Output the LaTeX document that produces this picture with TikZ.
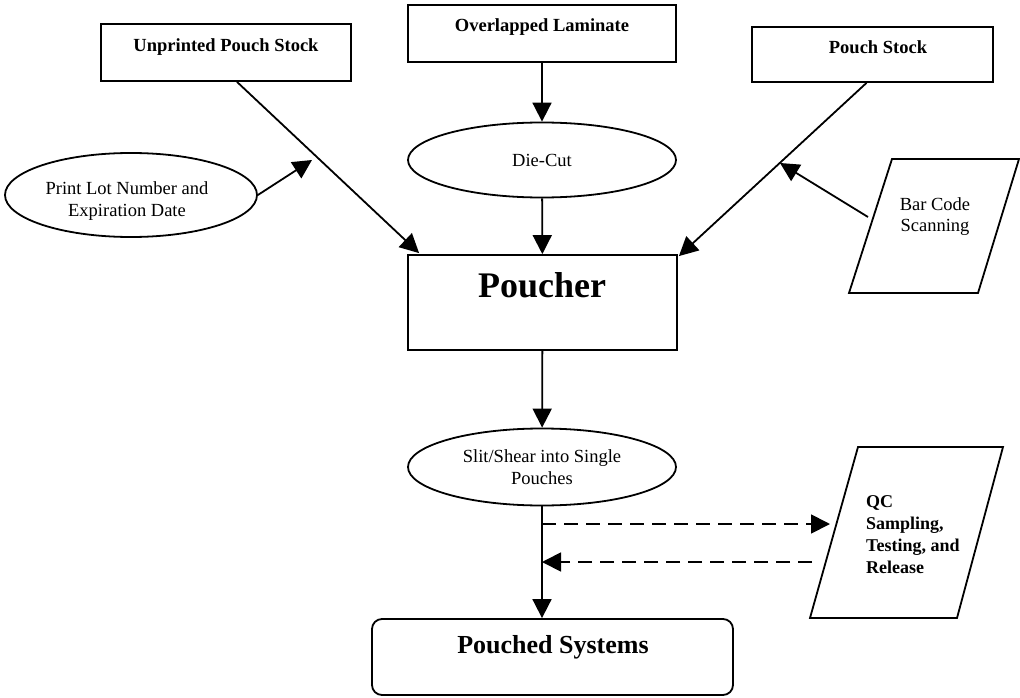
\documentclass[tikz,border=0pt]{standalone}
\usepackage{fontspec}
\setmainfont{Liberation Serif}
\usetikzlibrary{arrows.meta,shapes.geometric}
\begin{document}
\begin{tikzpicture}[x=1pt,y=-1pt,
  lw/.style={line width=1.8pt},
  boxnode/.style={draw,lw,rectangle,inner sep=0pt},
  ellnode/.style={draw,lw,ellipse,inner sep=0pt,align=center,font=\fontsize{18.5}{21.5}\selectfont},
  lbl/.style={align=center,inner sep=0pt,font=\fontsize{18.5}{21.5}\selectfont},
  blbl/.style={align=center,inner sep=0pt,font=\fontsize{18.5}{21.5}\selectfont\bfseries},
  arr/.style={lw,-{Triangle[length=19pt,width=19pt]}},
  dasharr/.style={arr,dash pattern=on 14pt off 8pt},
]
\useasboundingbox (0,0) rectangle (1020,698);

% top row boxes
\node[boxnode,minimum width=250pt,minimum height=57pt] (unp) at (226,52.5) {};
\node[blbl] (unpt) at (226,47) {Unprinted Pouch Stock};
\node[boxnode,minimum width=268pt,minimum height=57pt] (ovl) at (542,33.5) {};
\node[blbl] (ovlt) at (542,27) {Overlapped Laminate};
\node[boxnode,minimum width=241pt,minimum height=55pt] (pst) at (872.5,54.5) {};
\node[blbl] (pstt) at (878,47) {Pouch Stock};

% ellipses
\node[ellnode,minimum width=268pt,minimum height=75pt] (diecut) at (542,160) {Die-Cut};
\node[ellnode,minimum width=252pt,minimum height=84pt] (printlot) at (131,195) {};
\node[lbl] (printlott) at (127,201) {Print Lot Number and\\Expiration Date};

% Poucher
\node[boxnode,minimum width=269pt,minimum height=95pt] (poucher) at (542.5,302.5) {};
\node[inner sep=0pt,font=\fontsize{36}{40}\selectfont\bfseries] (pouchert) at (542,285) {Poucher};

% Slit / shear
\node[ellnode,minimum width=268pt,minimum height=77pt] (slit) at (542,467) {Slit/Shear into Single\\Pouches};

% Pouched systems
\node[boxnode,rounded corners=10pt,minimum width=361pt,minimum height=76pt] (pouched) at (552.5,657) {};
\node[inner sep=0pt,font=\fontsize{26}{30}\selectfont\bfseries] (pouchedt) at (553,647) {Pouched Systems};

% Bar code parallelogram
\coordinate (bc1) at (892,159);
\coordinate (bc2) at (1019,159);
\coordinate (bc3) at (978,293);
\coordinate (bc4) at (849,293);
\draw[lw,line join=miter] (bc1) -- (bc2) -- (bc3) -- (bc4) -- cycle;
\node[lbl] (bct) at (935,216.5) {Bar Code\\Scanning};

% QC parallelogram
\coordinate (qc1) at (858,447);
\coordinate (qc2) at (1003,447);
\coordinate (qc3) at (957,618);
\coordinate (qc4) at (810,618);
\draw[lw,line join=miter] (qc1) -- (qc2) -- (qc3) -- (qc4) -- cycle;
\node[inner sep=0pt,align=left,anchor=west,font=\fontsize{18}{22}\selectfont\bfseries] (qct) at (866,535) {QC\\Sampling,\\Testing, and\\Release};

% connectors
\draw[arr] ([xshift=11pt]unp.south) -- ([xshift=12pt,yshift=1pt]poucher.north west);
\draw[arr] (ovl) -- (diecut);
\draw[arr] (diecut) -- (poucher);
\draw[arr] ([xshift=-6pt]pst.south) -- ([xshift=1pt,yshift=-2pt]poucher.north east);

\coordinate (plend) at (312,160);
\draw[arr] (printlot.east) -- (plend);

\coordinate (bcstart) at (868,217);
\coordinate (bcend) at (780,163);
\draw[arr] (bcstart) -- (bcend);

\draw[arr] (poucher) -- (slit);
\draw[arr] (slit.south) -- (slit.south |- pouched.north);

\coordinate (qcin) at (830,524);
\coordinate (qcout) at (812,562);
\draw[dasharr] (slit.south |- qcin) -- (qcin);
\draw[dasharr] (qcout) -- (slit.south |- qcout);
\end{tikzpicture}
\end{document}
